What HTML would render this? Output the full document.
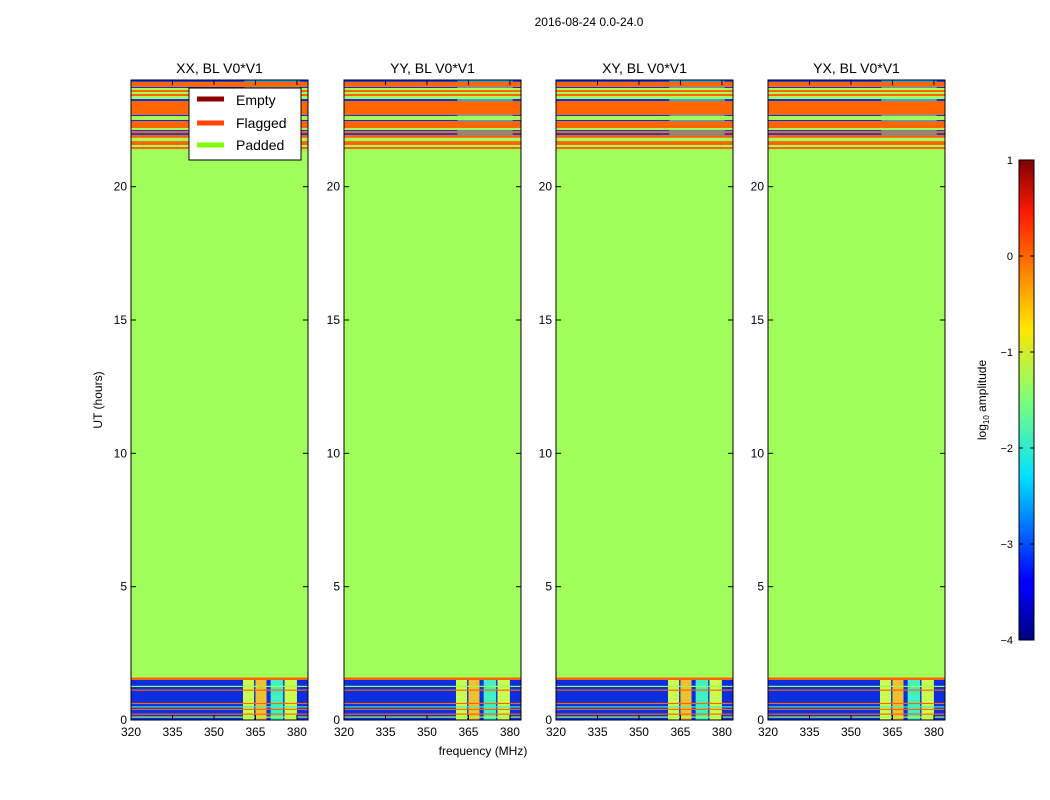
<!DOCTYPE html>
<html><head><meta charset="utf-8"><style>
body{margin:0;background:#fff;}
svg{display:block;font-family:"Liberation Sans","DejaVu Sans",sans-serif;}
</style></head><body>
<svg id="fig" width="1050" height="800" viewBox="0 0 1050 800" xmlns="http://www.w3.org/2000/svg">
<defs>
<linearGradient id="jet" x1="0" y1="1" x2="0" y2="0">
<stop offset="0" stop-color="#00007f"/><stop offset="0.11" stop-color="#0000ff"/><stop offset="0.125" stop-color="#0000ff"/>
<stop offset="0.34" stop-color="#00e0ff"/><stop offset="0.5" stop-color="#7dff7a"/><stop offset="0.65" stop-color="#ffe600"/>
<stop offset="0.89" stop-color="#ff1a00"/><stop offset="1" stop-color="#7f0000"/>
</linearGradient>
</defs>
<text x="589" y="26" font-size="12" text-anchor="middle">2016-08-24 0.0-24.0</text>
<text transform="translate(102,400) rotate(-90)" font-size="12" text-anchor="middle">UT (hours)</text>
<text x="483" y="755" font-size="12" text-anchor="middle">frequency (MHz)</text>
<g id="panels"></g>
<g>
<rect x="1019" y="160" width="15" height="480" fill="url(#jet)" stroke="#000" stroke-width="1"/>
<g id="cbticks"></g>
<text transform="translate(986,400) rotate(-90)" font-size="12" text-anchor="middle">log<tspan font-size="8" dy="3">10</tspan><tspan dy="-3"> amplitude</tspan></text>
</g>
<g>
<rect x="189" y="88" width="112" height="72" fill="#fff" stroke="#000" stroke-width="1"/>
<line x1="197" y1="99" x2="224" y2="99" stroke="#8b0000" stroke-width="5"/>
<text x="236" y="105" font-size="14">Empty</text>
<line x1="197" y1="123" x2="224" y2="123" stroke="#ff4500" stroke-width="5"/>
<text x="236" y="128" font-size="14">Flagged</text>
<line x1="197" y1="145" x2="224" y2="145" stroke="#7fff00" stroke-width="5"/>
<text x="236" y="150" font-size="14">Padded</text>
</g>
</svg>
<script>
const panelTitles = ["XX, BL V0*V1","YY, BL V0*V1","XY, BL V0*V1","YX, BL V0*V1"];
const xTicks = [320,335,350,365,380];
const yTicks = [0,5,10,15,20];
const cbTicks = [1,0,-1,-2,-3,-4];
// horizontal bands: start hour, end hour, colour key
const bandStart = [0,1.5,1.6,21.41,21.49,21.56,21.71,21.83,21.94,22.01,22.09,22.13,22.20,22.46,22.50,22.65,22.69,23.21,23.29,23.40,23.48,23.55,23.63,23.70,23.74,23.93];
const bandEnd   = [1.5,1.6,21.41,21.49,21.56,21.71,21.83,21.94,22.01,22.09,22.13,22.20,22.46,22.50,22.65,22.69,23.21,23.29,23.40,23.48,23.55,23.63,23.70,23.74,23.93,24];
const bandKind  = ["B","O","G","O","G","O","G","O","B","O","B","G","O","B","G","B","O","B","G","O","G","O","G","B","O","B"];
// lines within the low-hour noise region
const lineHour = [0.11,0.22,0.40,0.49,0.62,1.12,1.26];
const lineKind = ["G","O","O","C","O","O","G"];
// frequency columns in the low-hour region
const colStart = [360.5,365,370.5,375.5];
const colEnd   = [364.5,369,375,380];
const colKind  = ["Y","O2","C","Y"];
const colors = {B:"#0a2ee0",O:"#ff6600",G:"#a0ff5a",C:"#40f0c0",Y:"#c8ff50",O2:"#f0c030"};

const NS="http://www.w3.org/2000/svg";
function mk(tag,attrs,parent){const e=document.createElementNS(NS,tag);for(const k in attrs)e.setAttribute(k,attrs[k]);parent.appendChild(e);return e;}
const lefts=[131,344,556,768], W=177, TOP=80, BOT=720;
const yS=h=>BOT-(h/24)*(BOT-TOP);
const panelsG=document.getElementById('panels');
lefts.forEach((L,i)=>{
  const xS=f=>L+(f-320)/64*W;
  const g=mk('g',{},panelsG);
  
  
  bandStart.forEach((s,j)=>{
    const r=mk('rect',{x:L,y:yS(bandEnd[j]),width:W,height:yS(s)-yS(bandEnd[j]),fill:colors[bandKind[j]]},g);
    
    
    if(bandKind[j]==="B" && s>20){
      const c=mk('rect',{x:xS(361),y:yS(bandEnd[j]),width:xS(381)-xS(361),height:yS(s)-yS(bandEnd[j]),fill:"#30a8e0"},g);
      
      
    }
  });
  colStart.forEach((s,j)=>{
    const r=mk('rect',{x:xS(s),y:yS(1.5),width:xS(colEnd[j])-xS(s),height:yS(0)-yS(1.5),fill:colors[colKind[j]]},g);
    
    
  });
  lineHour.forEach((h,j)=>{
    const r=mk('rect',{x:L,y:yS(h)-0.6,width:W,height:1.2,fill:colors[lineKind[j]]},g);
    
    
  });
  const fr=mk('rect',{x:L,y:TOP,width:W,height:BOT-TOP,fill:"none",stroke:"#000","stroke-width":1},g);
  
  
  const t=mk('text',{x:L+W/2,y:73,"font-size":14,"text-anchor":"middle"},g);
  t.textContent=panelTitles[i];
  
  
  xTicks.forEach(v=>{
    const x=xS(v);
    mk('line',{x1:x,y1:BOT,x2:x,y2:BOT-5,stroke:"#000"},g);
    mk('line',{x1:x,y1:TOP,x2:x,y2:TOP+5,stroke:"#000"},g);
    const tx=mk('text',{x:x,y:BOT+16,"font-size":12,"text-anchor":"middle"},g);
    tx.textContent=v;
    
    
  });
  yTicks.forEach(v=>{
    const y=yS(v);
    mk('line',{x1:L,y1:y,x2:L+5,y2:y,stroke:"#000"},g);
    mk('line',{x1:L+W,y1:y,x2:L+W-5,y2:y,stroke:"#000"},g);
    const ty=mk('text',{x:L-4,y:y+4,"font-size":12,"text-anchor":"end"},g);
    ty.textContent=v;
    
    
  });
});
const cb=document.getElementById('cbticks');
cbTicks.forEach(v=>{
  const y=640-(v+4)/5*480;
  mk('line',{x1:1019,y1:y,x2:1023,y2:y,stroke:"#000"},cb);
  mk('line',{x1:1034,y1:y,x2:1030,y2:y,stroke:"#000"},cb);
  const t=mk('text',{x:1013,y:y+4,"font-size":11,"text-anchor":"end"},cb);
  t.textContent=v<0?"\u2212"+(-v):v;
  
  
});
</script>
</body></html>
